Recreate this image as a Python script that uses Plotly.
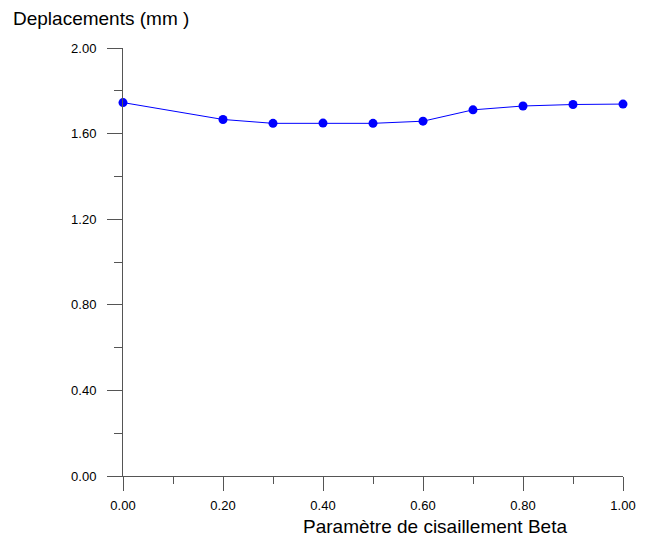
import plotly.graph_objects as go

beta = [0.0, 0.2, 0.3, 0.4, 0.5, 0.6, 0.7, 0.8, 0.9, 1.0]
deplacement = [1.745, 1.666, 1.648, 1.649, 1.648, 1.658, 1.711, 1.729, 1.736, 1.738]

x_ticks = [0.0, 0.2, 0.4, 0.6, 0.8, 1.0]
x_tick_labels = ["0.00", "0.20", "0.40", "0.60", "0.80", "1.00"]
y_ticks = [0.0, 0.4, 0.8, 1.2, 1.6, 2.0]
y_tick_labels = ["0.00", "0.40", "0.80", "1.20", "1.60", "2.00"]

font_family = "Liberation Sans, Arial, sans-serif"
axis_color = "#555555"

fig = go.Figure(
    go.Scatter(
        x=beta,
        y=deplacement,
        mode="lines+markers",
        line=dict(color="#0000ff", width=1),
        marker=dict(color="#0000ff", size=9),
        cliponaxis=False,
    )
)

common_axis = dict(
    showgrid=False,
    zeroline=False,
    showline=True,
    linecolor=axis_color,
    linewidth=1,
    ticks="outside",
    tickcolor=axis_color,
    tickwidth=1,
    tickfont=dict(family=font_family, size=13, color="black"),
)

fig.update_xaxes(
    **common_axis,
    range=[0, 1],
    tickvals=x_ticks,
    ticktext=x_tick_labels,
    ticklen=14,
    ticklabelstandoff=3,
    minor=dict(dtick=0.1, ticklen=7, ticks="outside", tickcolor=axis_color, tickwidth=1),
)
fig.update_yaxes(
    **common_axis,
    range=[0, 2],
    tickvals=y_ticks,
    ticktext=y_tick_labels,
    ticklen=15,
    ticklabelstandoff=8,
    minor=dict(dtick=0.2, ticklen=8, ticks="outside", tickcolor=axis_color, tickwidth=1),
)

fig.add_annotation(
    text="Deplacements (mm )", xref="paper", yref="paper",
    x=-0.224, y=1.068, xanchor="left", yanchor="middle", showarrow=False,
    font=dict(family=font_family, size=19, color="black"),
)
fig.add_annotation(
    text="Paramètre de cisaillement Beta", xref="paper", yref="paper",
    x=0.624, y=-0.118, xanchor="center", yanchor="middle", showarrow=False,
    font=dict(family=font_family, size=19, color="black"),
)

fig.update_layout(
    width=651,
    height=537,
    margin=dict(l=123, r=28, t=48, b=61),
    plot_bgcolor="white",
    paper_bgcolor="white",
    showlegend=False,
)

fig.write_html("out.html")
